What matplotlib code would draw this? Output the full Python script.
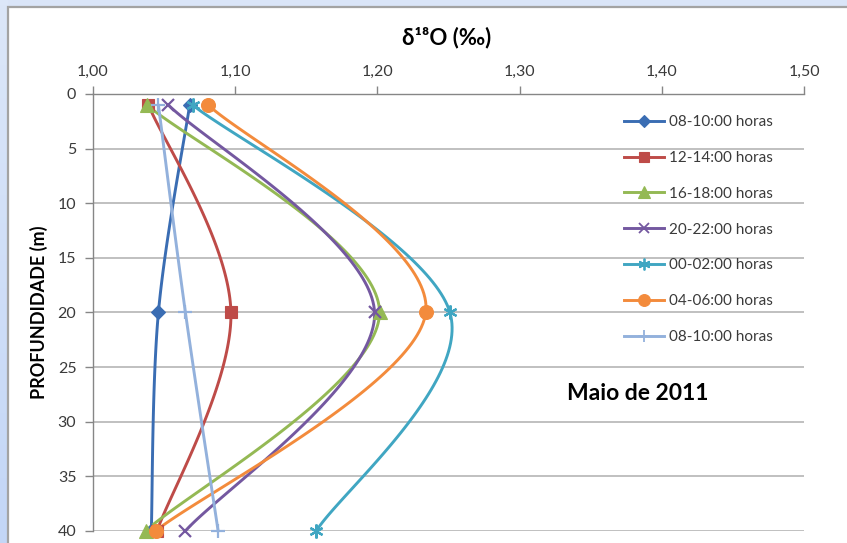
import numpy as np
import matplotlib
matplotlib.use("Agg")
import matplotlib.pyplot as plt
from matplotlib.patches import Rectangle

plt.rcParams['font.family'] = ['Lato', 'DejaVu Sans']

# Depth (m) of each sample and delta-18O values for every sampling window
depths = [1, 20, 40]
s_0810 = [1.068, 1.046, 1.041]
s_1214 = [1.039, 1.097, 1.045]
s_1618 = [1.038, 1.2015, 1.037]
s_2022 = [1.053, 1.198, 1.065]
s_0002 = [1.070, 1.251, 1.157]
s_0406 = [1.081, 1.234, 1.044]
s_0810b = [1.046, 1.065, 1.088]

labels = ["08-10:00 horas", "12-14:00 horas", "16-18:00 horas", "20-22:00 horas",
          "00-02:00 horas", "04-06:00 horas", "08-10:00 horas"]
x_ticks = [1.00, 1.10, 1.20, 1.30, 1.40, 1.50]
y_ticks = [0, 5, 10, 15, 20, 25, 30, 35, 40]

colors = ["#3a6db3", "#be4b48", "#94b954", "#7458a0", "#40a6c2", "#f38b3c", "#93b1dc"]
markers = ["D", "s", "^", "x", (6, 2, 0), "o", "+"]
msizes = [7.5, 9, 9.5, 9, 10, 10, 10]


def smooth(xs, ys, n=60):
    """Catmull-Rom style Bezier smoothing (spreadsheet 'smoothed line')."""
    p = np.column_stack([xs, ys]).astype(float)
    ext = np.vstack([p[0], p, p[-1]])
    out = []
    t = np.linspace(0, 1, n)[:, None]
    for i in range(len(p) - 1):
        p0, p1, p2, p3 = ext[i], ext[i + 1], ext[i + 2], ext[i + 3]
        c1 = p1 + (p2 - p0) / 6.0
        c2 = p2 - (p3 - p1) / 6.0
        seg = ((1 - t) ** 3) * p1 + 3 * ((1 - t) ** 2) * t * c1 + 3 * (1 - t) * t ** 2 * c2 + t ** 3 * p2
        out.append(seg if i == 0 else seg[1:])
    pts = np.vstack(out)
    return pts[:, 0], pts[:, 1]


W, H = 847, 543
fig = plt.figure(figsize=(W / 100, H / 100), dpi=100, facecolor="#dae5f8")

# bluish side strip, slightly darker towards the bottom
side = fig.add_axes([0, 0, 8 / W, 1], zorder=-10)
side.imshow(np.linspace(0, 1, 100)[:, None], aspect="auto", extent=[0, 1, 0, 1],
            cmap=matplotlib.colors.LinearSegmentedColormap.from_list(
                "side", ["#dce7f9", "#c3d6f6"]))
side.set_axis_off()

# white chart panel with grey frame
panel = Rectangle((8 / W, -0.1), 1.2, 1.1 - 7 / H, transform=fig.transFigure,
                  facecolor="white", edgecolor="#a3a3a3", linewidth=1.6, zorder=-5)
fig.add_artist(panel)

ax = fig.add_axes([93 / W, 1 - 531 / H, (804 - 93) / W, (531 - 94) / H])
ax.set_facecolor("none")
ax.set_zorder(2)

series = [s_0810, s_1214, s_1618, s_2022, s_0002, s_0406, s_0810b]
for vals, c, m, ms, lab in zip(series, colors, markers, msizes, labels):
    sx, sy = smooth(vals, depths)
    ax.plot(sx, sy, color=c, lw=2.1, solid_capstyle="round", zorder=3)
    ax.plot(vals, depths, linestyle="none", marker=m, color=c, markersize=ms,
            markeredgewidth=1.6 if m in ("x", "+", (6, 2, 0)) else 0.8,
            markeredgecolor=c, clip_on=False, zorder=4)
    ax.plot([], [], color=c, lw=2.1, marker=m, markersize=ms * 0.85,
            markeredgewidth=1.3 if m in ("x", "+", (6, 2, 0)) else 0.8, label=lab)

ax.set_xlim(1.0, 1.5)
ax.set_ylim(40, 0)
ax.xaxis.tick_top()
ax.set_xticks(x_ticks)
ax.set_xticklabels([f"{v:.2f}".replace(".", ",") for v in x_ticks])
ax.set_yticks(y_ticks)
ax.tick_params(axis="both", colors="#868686", labelcolor="#3a3a3a", labelsize=11.5,
               length=6, width=1.0, direction="out")
ax.tick_params(axis="x", pad=5)
ax.tick_params(axis="y", pad=6)
ax.grid(axis="y", color="#c0c0c0", lw=1.4, zorder=0)
ax.set_axisbelow(True)
for s in ("right", "bottom"):
    ax.spines[s].set_visible(False)
for s in ("left", "top"):
    ax.spines[s].set_color("#868686")
    ax.spines[s].set_linewidth(1.0)

ax.set_ylabel("PROFUNDIDADE (m)", fontsize=13, fontweight="bold", color="black", labelpad=7)
fig.text(447 / W, 1 - 38 / H, "δ¹⁸O (‰)", fontsize=16, fontweight="bold",
         ha="center", va="center")
fig.text(638 / W, 1 - 394 / H, "Maio de 2011", fontsize=16.5, fontweight="bold",
         ha="center", va="center")

leg = ax.legend(loc="upper left", bbox_to_anchor=(624 / W, 1 - 115 / H),
                bbox_transform=fig.transFigure, frameon=False, fontsize=11,
                handlelength=2.6, handletextpad=0.35, labelspacing=1.43,
                borderaxespad=0, borderpad=0)
for t in leg.get_texts():
    t.set_color("#3a3a3a")

fig.savefig("out.png", dpi=100, facecolor=fig.get_facecolor())
